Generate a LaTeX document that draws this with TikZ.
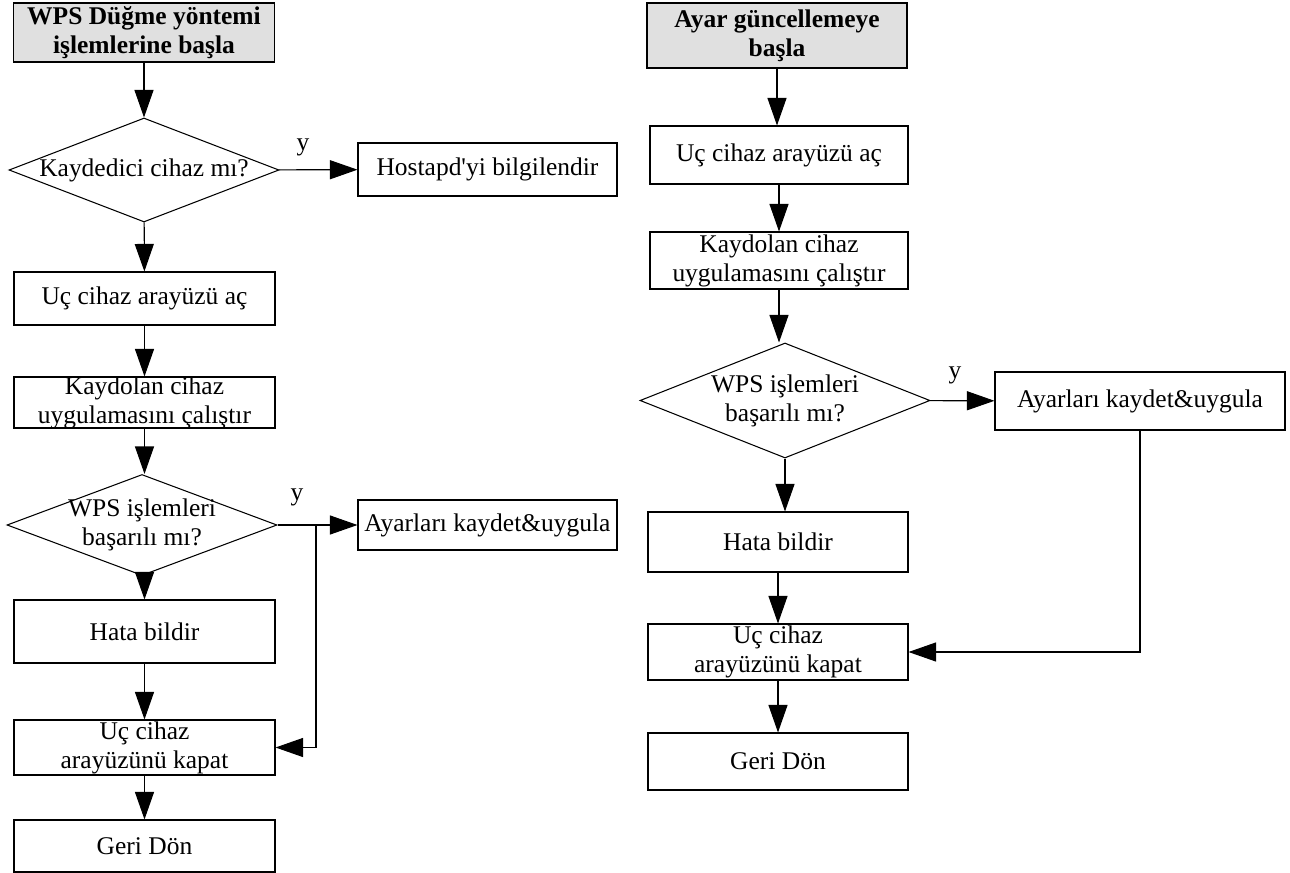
\documentclass[tikz,border=0pt]{standalone}
\usepackage{fontspec}
\setmainfont{Liberation Serif}
\usetikzlibrary{arrows.meta,shapes.geometric}

\begin{document}
\begin{tikzpicture}[
  x=0.2mm,y=-0.2mm,
  every node/.style={font=\fontsize{14.5}{16.5}\selectfont,text=black},
  box/.style={draw,line width=0.6pt,align=center,inner sep=1pt,minimum width=52.2mm,minimum height=10.6mm},
  twoline/.style={inner ysep=-3pt},
  begin/.style={box,fill=black!12,font=\fontsize{14.5}{16.5}\selectfont\bfseries},
  query/.style={diamond,draw,line width=0.6pt,align=center,inner sep=0pt,aspect=2.6,minimum width=54mm,minimum height=20.8mm},
  flow/.style={-{Triangle[length=5.5mm,width=3.8mm]},line width=0.6pt},
  ylab/.style={inner sep=0pt},
]
\useasboundingbox (0,0) rectangle (1290,873);

% left chart
\node[begin,twoline,minimum height=11.8mm] (wStart) at (144,32.5) {WPS Düğme yöntemi\\işlemlerine başla};
\node[query] (wReg) at (144,170) {Kaydedici cihaz mı?};
\node[box,minimum width=51.8mm] (wHost) at (487.5,169.5) {Hostapd\textquotesingle yi bilgilendir};
\node[box] (wOpen) at (144.5,298.5) {Uç cihaz arayüzü aç};
\node[box,twoline,minimum height=10.2mm] (wRun) at (144.5,402.5) {Kaydolan cihaz\\uygulamasını çalıştır};
\node[query,twoline,minimum height=20.2mm] (wOk) at (142,525) {WPS işlemleri\\başarılı mı?};
\node[box,minimum width=51.8mm,minimum height=10mm] (wSave) at (487.5,525) {Ayarları kaydet\&uygula};
\node[box,minimum height=12.6mm] (wErr) at (144.5,631.5) {Hata bildir};
\node[box,twoline,minimum height=11mm] (wClose) at (144.5,747.5) {Uç cihaz\\arayüzünü kapat};
\node[box,minimum height=10.4mm] (wBack) at (144.5,846) {Geri Dön};
\coordinate (wBend) at (316,525);
\node[ylab] (wY1) at (303,147) {y};
\node[ylab] (wY2) at (297,497) {y};

\draw[flow] (wStart) -- (wReg);
\draw[flow] (wReg) -- (wHost);
\draw[flow] (wReg) -- (wOpen);
\draw[flow] (wOpen) -- (wRun);
\draw[flow] (wRun) -- (wRun |- wOk.north);
\draw[flow] (wOk) -- (wSave);
\draw[flow] (wOk.south -| wErr) -- (wErr);
\draw[flow] (wBend) |- (wClose);
\draw[flow] (wErr) -- (wClose);
\draw[flow] (wClose) -- (wBack);

% right chart
\node[begin,twoline,minimum width=52mm,minimum height=13mm] (aStart) at (777,35.5) {Ayar güncellemeye\\başla};
\node[box,minimum width=51.6mm,minimum height=11.6mm] (aOpen) at (779,155) {Uç cihaz arayüzü aç};
\node[box,twoline,minimum width=51.6mm,minimum height=11.4mm] (aRun) at (779,260.5) {Kaydolan cihaz\\uygulamasını çalıştır};
\node[query,twoline,minimum width=58mm,minimum height=23mm] (aOk) at (785,400.5) {WPS işlemleri\\başarılı mı?};
\node[box,minimum width=58mm,minimum height=11.6mm] (aSave) at (1140,401) {Ayarları kaydet\&uygula};
\node[box,minimum width=52mm,minimum height=12mm] (aErr) at (778,542) {Hata bildir};
\node[box,twoline,minimum width=52mm,minimum height=11.2mm] (aClose) at (778,652) {Uç cihaz\\arayüzünü kapat};
\node[box,minimum width=52mm,minimum height=11.4mm] (aBack) at (778,761.5) {Geri Dön};
\node[ylab] (aY) at (955,375) {y};

\draw[flow] (aStart) -- (aStart |- aOpen.north);
\draw[flow] (aOpen) -- (aRun);
\draw[flow] (aRun) -- (aRun |- aOk.north);
\draw[flow] (aOk) -- (aSave);
\draw[flow] (aOk.south) -- (aOk.south |- aErr.north);
\draw[flow] (aSave.south) |- (aClose.east);
\draw[flow] (aErr) -- (aClose);
\draw[flow] (aClose) -- (aBack);
\end{tikzpicture}
\end{document}
